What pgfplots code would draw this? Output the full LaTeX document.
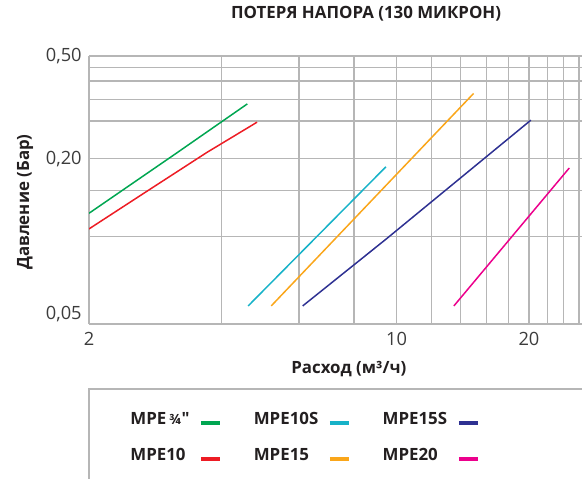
\documentclass[border=0pt]{standalone}
\usepackage{fontspec}
\setmainfont{Open Sans}
\newfontfamily\rawfont{Open Sans}
\usepackage{pgfplots}
\pgfplotsset{compat=1.18}
\definecolor{cgreen}{RGB}{0,166,81}
\definecolor{cred}{RGB}{237,28,36}
\definecolor{ccyan}{RGB}{23,178,200}
\definecolor{corange}{RGB}{250,166,26}
\definecolor{cnavy}{RGB}{46,49,146}
\definecolor{cmagenta}{RGB}{236,0,140}
\definecolor{gridgray}{RGB}{182,182,182}
\definecolor{textdark}{RGB}{35,31,32}
\definecolor{ticktext}{RGB}{60,60,60}
\begin{document}
\begin{tikzpicture}
\begin{axis}[
  scale only axis, width=9.86cm, height=5.36cm,
  xmode=log, ymode=log,
  xmin=2, xmax=26.4, ymin=0.0457, ymax=0.5,
  axis x line*=bottom, axis y line*=left,
  axis line style={draw=gridgray, line width=0.75pt},
  xtick={2,10,20}, xticklabels={2,10,20},
  ytick={0.05,0.2,0.5}, yticklabels={{0,05},{0,20},{0,50}},
  minor xtick={4,6,8,10,12,14,16,18,20,22,24,26},
  minor ytick={0.1,0.15,0.2,0.28,0.34,0.4,0.45,0.5},
  xmajorgrids=false, ymajorgrids=false,
  xminorgrids=true, yminorgrids=true,
  minor grid style={draw=gridgray, line width=0.7pt},
  major tick length=0pt, minor tick length=0pt,
  tick label style={font=\fontsize{10.4}{12}\selectfont, text=ticktext, inner sep=0pt},
  xticklabel shift=0.15cm, yticklabel shift=0.14cm,
  title={ПОТЕРЯ НАПОРА (130 МИКРОН)},
  title style={at={(axis description cs:0.562,1.119)}, anchor=center, inner sep=0pt,
    font=\bfseries\fontsize{9.6}{11}\selectfont, text=textdark},
  xlabel={Расход (м³/ч)},
  xlabel style={at={(axis description cs:0.527,-0.168)}, anchor=center, inner sep=0pt,
    font=\bfseries\fontsize{9.6}{11}\selectfont, text=textdark},
  ylabel={Давление (Бар)},
  ylabel style={at={(axis description cs:-0.1298,0.455)}, anchor=center, inner sep=0pt,
    font=\bfseries\fontsize{9.6}{11}\selectfont, text=textdark},
  legend columns=3,
  legend plot pos=right,
  legend cell align=left,
  legend style={draw=none, fill=none, at={(axis description cs:0.0832,-0.4216)}, anchor=west,
    inner sep=0pt, row sep=0.48cm, column sep=0.2cm,
    nodes={inner sep=0pt, text height=6.8pt, text depth=0pt},
    font=\bfseries\fontsize{9.6}{11}\selectfont, text=textdark,
    /tikz/every even column/.append style={column sep=0.64cm}},
  legend image code/.code={
    \draw[line width=1.9pt] (0cm,-0.08cm) -- (0.38cm,-0.08cm);
    \path (0cm,0.08cm);
  },
  every axis plot/.append style={line width=0.85pt},
]
\addplot[cgreen, no marks] coordinates {(2.0,0.1228) (3.16,0.210) (4.58,0.326)};
\addlegendentry{MPE\,{\fontsize{8}{9}\selectfont ¾}{\rawfont\bfseries "}}
\addplot[ccyan, no marks] coordinates {(4.60,0.0537) (9.46,0.186)};
\addlegendentry{MPE10S}
\addplot[cnavy, no marks] coordinates {(6.12,0.0537) (9.46,0.0974) (20.2,0.282)};
\addlegendentry{MPE15S}
\addplot[cred, no marks] coordinates {(2.0,0.1068) (2.70,0.149) (3.70,0.211) (4.82,0.277)};
\addlegendentry{MPE10}
\addplot[corange, no marks] coordinates {(5.19,0.0537) (14.97,0.358)};
\addlegendentry{MPE15}
\addplot[cmagenta, no marks] coordinates {(13.5,0.0537) (24.7,0.184)};
\addlegendentry{MPE20}
\end{axis}
\draw[draw=gridgray, line width=0.85pt] (12,-1.30) -- (0,-1.30) -- (0,-4);
\pgfresetboundingbox
\useasboundingbox (-1.78,-3.08) rectangle (9.86,6.48);
\end{tikzpicture}
\end{document}
